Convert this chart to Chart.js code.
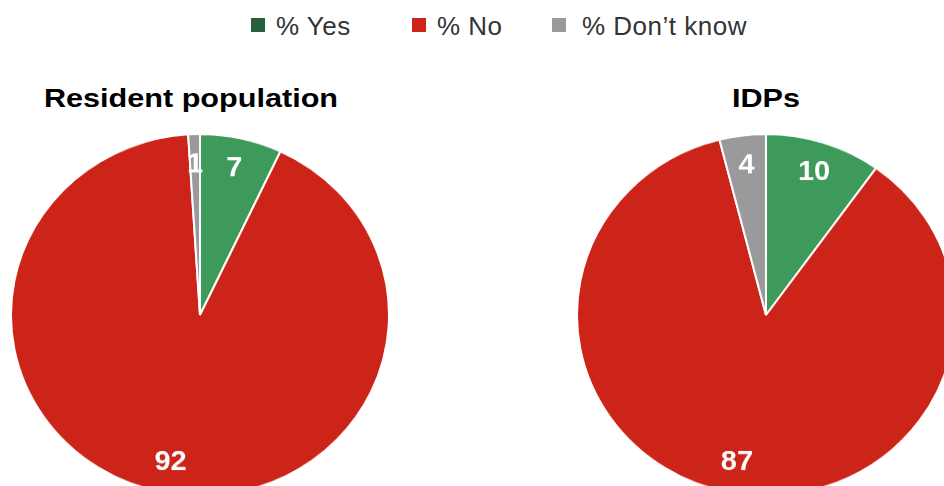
<!DOCTYPE html>
<html>
<head>
<meta charset="utf-8">
<script src="https://cdn.jsdelivr.net/npm/chart.js@4/dist/chart.umd.min.js"></script>
<style>
  html, body { margin: 0; padding: 0; background: #ffffff; overflow: hidden; }
  body { width: 944px; height: 486px; position: relative; font-family: "Liberation Sans", Arial, Helvetica, sans-serif; }
  .legend { position: absolute; top: 9px; left: 0; width: 944px; height: 34px; }
  .legend .box { position: absolute; top: 9px; width: 14px; height: 14px; }
  .legend .text { position: absolute; top: 0; line-height: 34px; color: #333333; font-size: 26px; letter-spacing: 0.5px; white-space: nowrap; }
  .title { position: absolute; top: 84px; font-size: 25.5px; font-weight: bold; color: #000000; text-align: center; white-space: nowrap; transform: scaleX(1.2); transform-origin: 50% 50%; }
  .pie { position: absolute; top: 125px; width: 380px; height: 380px; transform: scaleY(0.957); transform-origin: 50% 50%; }
  .pie canvas { display: block; }
</style>
</head>
<body>
<div class="legend" id="legend"></div>
<div class="title" style="left:41px;width:300px;">Resident population</div>
<div class="title" style="left:666px;width:200px;">IDPs</div>
<div class="pie" style="left:10px;"><canvas id="resident" width="380" height="380"></canvas></div>
<div class="pie" style="left:576px;"><canvas id="idps" width="380" height="380"></canvas></div>
<script>
// Answer categories and shares (%)
const categories = ['% Yes', '% No', '% Don\u2019t know'];
const residentValues = [7, 92, 1];
const idpValues = [10, 87, 4];

const sliceColors = ['#3d9a5a', '#cc2418', '#9a9a9a'];
const legendColors = ['#27603a', '#cc2418', '#9a9a9a'];
const legendBoxLeft = [251, 412, 552];
const legendTextLeft = [276, 437, 582];

// Legend row
const legend = document.getElementById('legend');
categories.forEach((name, i) => {
  const box = document.createElement('span');
  box.className = 'box';
  box.style.left = legendBoxLeft[i] + 'px';
  box.style.background = legendColors[i];
  const label = document.createElement('span');
  label.className = 'text';
  label.style.left = legendTextLeft[i] + 'px';
  label.textContent = name;
  legend.appendChild(box);
  legend.appendChild(label);
});

// Writes each slice's value inside the slice, near the rim
const sliceValueLabels = {
  id: 'sliceValueLabels',
  afterDatasetsDraw(chart) {
    const ctx = chart.ctx;
    const meta = chart.getDatasetMeta(0);
    const data = chart.data.datasets[0].data;
    ctx.save();
    ctx.fillStyle = '#ffffff';
    ctx.font = 'bold 29px "Liberation Sans", Arial, sans-serif';
    ctx.textAlign = 'center';
    ctx.textBaseline = 'middle';
    meta.data.forEach((arc, i) => {
      const p = arc.getProps(['x', 'y', 'startAngle', 'endAngle', 'outerRadius'], true);
      const mid = (p.startAngle + p.endAngle) / 2;
      const r = p.outerRadius * 0.83;
      ctx.fillText(String(data[i]), p.x + Math.cos(mid) * r, p.y + Math.sin(mid) * r);
    });
    ctx.restore();
  }
};

function makePie(id, values) {
  return new Chart(document.getElementById(id), {
    type: 'pie',
    data: {
      labels: categories,
      datasets: [{
        data: values,
        backgroundColor: sliceColors,
        borderColor: '#ffffff',
        borderWidth: 2
      }]
    },
    options: {
      responsive: false,
      animation: false,
      layout: { padding: 0 },
      plugins: {
        legend: { display: false },
        title: { display: false },
        tooltip: { enabled: false }
      }
    },
    plugins: [sliceValueLabels]
  });
}

makePie('resident', residentValues);
makePie('idps', idpValues);
</script>
</body>
</html>
